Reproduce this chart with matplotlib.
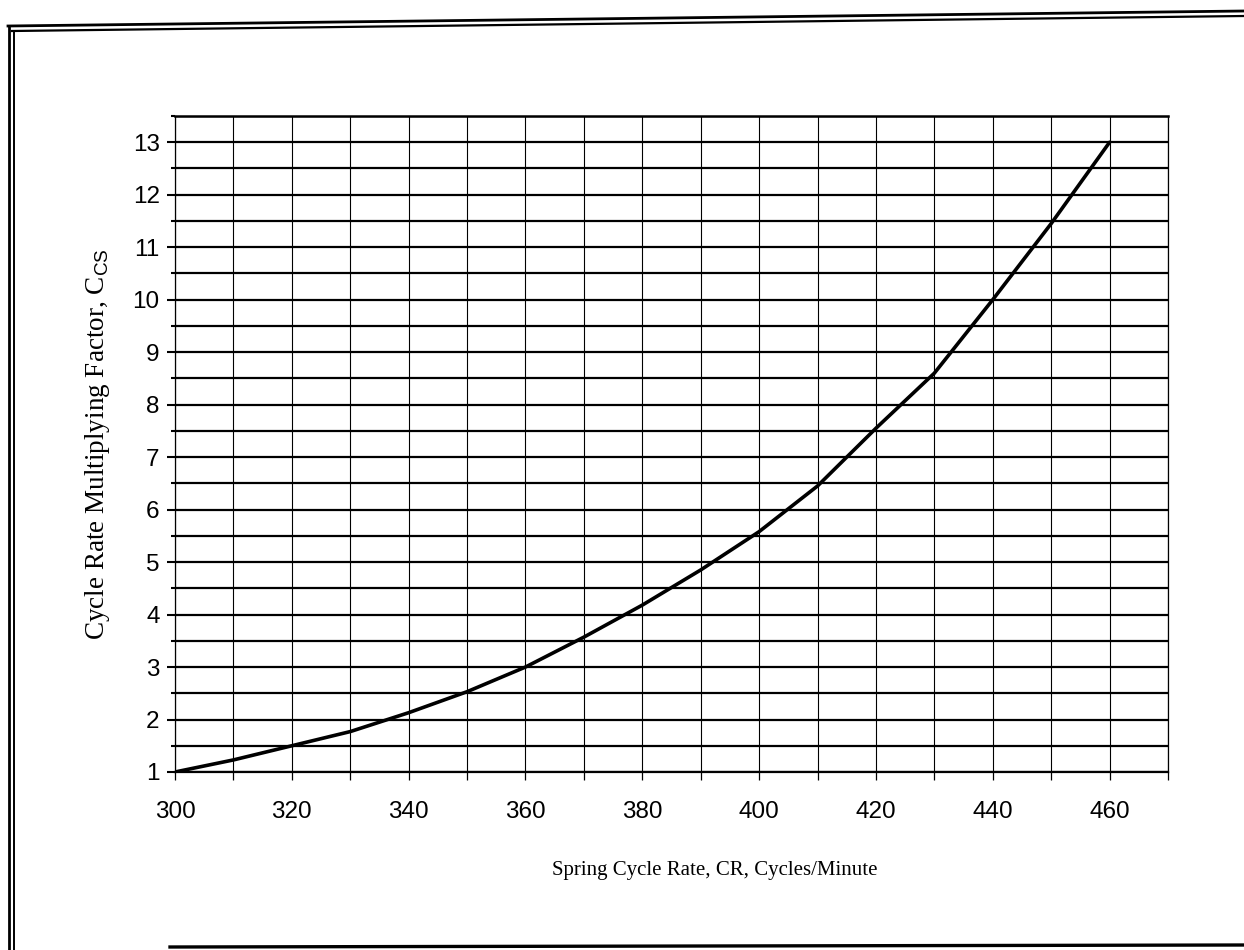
import matplotlib
matplotlib.use("Agg")
import matplotlib.pyplot as plt
from matplotlib.lines import Line2D
from matplotlib.ticker import MultipleLocator

# Data
cycle_rate = [300, 310, 320, 330, 340, 350, 360, 370, 380, 390, 400, 410, 420, 430, 440, 450, 460]
multiplier = [1.00, 1.23, 1.50, 1.77, 2.13, 2.53, 3.00, 3.57, 4.18, 4.85, 5.58, 6.45, 7.55, 8.60, 10.00, 11.45, 13.00]
x_ticks = [300, 320, 340, 360, 380, 400, 420, 440, 460]
y_ticks = list(range(1, 14))

plt.rcParams['mathtext.fontset'] = 'custom'
plt.rcParams['mathtext.rm'] = 'Liberation Serif'
plt.rcParams['mathtext.sf'] = 'Liberation Sans'

W, H = 1244, 950
fig = plt.figure(figsize=(W / 100, H / 100), dpi=100)
ax = fig.add_axes([175 / W, 1 - 772 / H, (1168 - 175) / W, (772 - 116) / H])

ax.set_xlim(300, 470)
ax.set_ylim(1, 13.5)

# grid
ax.xaxis.set_major_locator(MultipleLocator(20))
ax.xaxis.set_minor_locator(MultipleLocator(10))
ax.yaxis.set_major_locator(MultipleLocator(1))
ax.yaxis.set_minor_locator(MultipleLocator(0.5))
ax.grid(True, which='both', axis='y', color='black', linewidth=1.6)
ax.grid(True, which='both', axis='x', color='black', linewidth=0.8)
ax.set_axisbelow(True)

ax.set_xticks(x_ticks)
ax.set_xticklabels([str(v) for v in x_ticks])
ax.set_yticks(y_ticks)
ax.set_yticklabels([str(v) for v in y_ticks])

ax.tick_params(axis='x', which='both', direction='out', length=6, width=0.9,
               labelsize=17.5, pad=15)
ax.tick_params(axis='y', which='major', direction='out', length=6, width=1.5,
               labelsize=17.5, pad=5)
ax.tick_params(axis='y', which='minor', direction='out', length=3, width=1.5)
for lab in ax.get_xticklabels() + ax.get_yticklabels():
    lab.set_family('Liberation Sans')

for side in ['left', 'right']:
    ax.spines[side].set_linewidth(0.9)
ax.spines['top'].set_linewidth(1.8)
ax.spines['bottom'].set_linewidth(1.6)

ax.plot(cycle_rate, multiplier, color='black', linewidth=2.6, solid_capstyle='round',
        zorder=5)

ax.set_xlabel('Spring Cycle Rate, CR, Cycles/Minute', family='Liberation Serif',
              fontsize=15)
ax.xaxis.set_label_coords(0.544, -0.135)
ax.set_ylabel('Cycle Rate Multiplying Factor, C$_{\\mathsf{CS}}$',
              family='Liberation Serif', fontsize=19.5)
ax.yaxis.set_label_coords(-0.063, 0.5)

# page frame (scanned document border)
def fx(px):
    return px / W

def fy(py):
    return 1 - py / H

frame = [
    ((fx(8), fx(W)), (fy(26), fy(11)), 2.0),
    ((fx(12), fx(W)), (fy(31), fy(16)), 1.6),
    ((fx(9), fx(9)), (fy(26), fy(H)), 2.0),
    ((fx(14), fx(14)), (fy(31), fy(H)), 1.4),
    ((fx(170), fx(W)), (fy(947), fy(945)), 2.4),
]
for xs, ys, lw in frame:
    fig.add_artist(Line2D(xs, ys, color='black', linewidth=lw, transform=fig.transFigure))

fig.savefig('out.png', dpi=100)
